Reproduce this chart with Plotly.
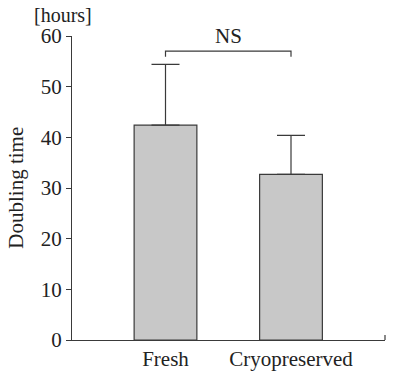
import plotly.graph_objects as go

categories = ["Fresh", "Cryopreserved"]
means = [42.4, 32.7]
sd_upper = [12.0, 7.7]
y_ticks = [0, 10, 20, 30, 40, 50, 60]
sig_label = "NS"
sig_level = 57.0
sig_leg = 1.1

xpos = [1, 2]
font = "Liberation Serif, Times New Roman, serif"
line_col = "#3a3a3a"
txt_col = "#222"
fs = 21

fig = go.Figure()
fig.add_trace(go.Bar(
    x=xpos, y=means, width=0.5,
    marker=dict(color="#c8c8c8", line=dict(color=line_col, width=1.2)),
    error_y=dict(type="data", symmetric=False, array=sd_upper,
                 arrayminus=[0, 0], color=line_col, thickness=1.2, width=14),
    showlegend=False, hoverinfo="skip",
))
# significance bracket
fig.add_trace(go.Scatter(
    x=[xpos[0], xpos[0], xpos[1], xpos[1]],
    y=[sig_level - sig_leg, sig_level, sig_level, sig_level - sig_leg],
    mode="lines", line=dict(color=line_col, width=1.2),
    showlegend=False, hoverinfo="skip",
))
fig.add_annotation(x=(xpos[0] + xpos[1]) / 2, y=sig_level, yshift=1,
                   text=sig_label, showarrow=False, yanchor="bottom",
                   font=dict(family=font, size=fs, color=txt_col))
fig.add_annotation(xref="paper", yref="paper", x=-0.03, y=1.0, yshift=8,
                   text="[hours]", showarrow=False, yanchor="bottom", xanchor="center",
                   font=dict(family=font, size=fs - 1, color=txt_col))
fig.add_annotation(xref="paper", yref="paper", x=-0.18, y=0.5,
                   text="Doubling time", showarrow=False, textangle=-90,
                   xanchor="center", yanchor="middle",
                   font=dict(family=font, size=fs, color=txt_col))
# right-end tick of x axis
fig.add_shape(type="line", xref="x domain", yref="y", x0=1, x1=1, y0=0, y1=1.0,
              line=dict(color=line_col, width=1.2))

fig.update_layout(
    width=400, height=374,
    margin=dict(l=72, r=15, t=36, b=34, autoexpand=False),
    paper_bgcolor="white", plot_bgcolor="white",
    font=dict(family=font, size=fs, color=txt_col),
    xaxis=dict(range=[0.255, 2.749], tickvals=xpos, ticktext=categories,
               showline=True, linecolor=line_col, linewidth=1.2,
               ticks="", showgrid=False, zeroline=False, fixedrange=True,
               automargin=False,
               tickfont=dict(family=font, size=fs, color=txt_col)),
    yaxis=dict(range=[0, 60], tickvals=y_ticks, showline=True, linecolor=line_col,
               linewidth=1.2, ticks="outside", ticklen=5, tickcolor=line_col,
               showgrid=False, zeroline=False, automargin=False, fixedrange=True,
               tickfont=dict(family=font, size=fs, color=txt_col)),
)
fig.write_html("out.html", config={"displayModeBar": False},
               post_script="document.body.style.margin='0';document.body.style.padding='0';")
